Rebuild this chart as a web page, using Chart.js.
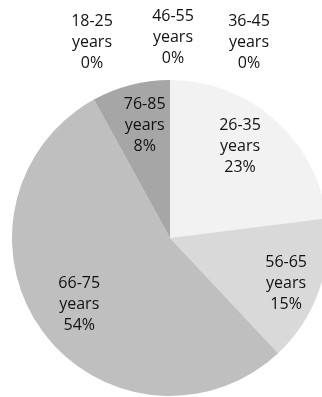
<!DOCTYPE html>
<html>
<head>
<meta charset="utf-8">
<script src="https://cdn.jsdelivr.net/npm/chart.js@4/dist/chart.umd.min.js"></script>
<style>
  html, body { margin: 0; padding: 0; background: #fff; overflow: hidden; }
  #wrap { width: 340px; height: 397px; }
</style>
</head>
<body>
<div id="wrap"><canvas id="myChart" width="340" height="397"></canvas></div>
<script>
const ageGroups = ['18-25', '26-35', '36-45', '46-55', '56-65', '66-75', '76-85'];
const shares = [0, 23, 0, 0, 15, 54, 8];
const sliceColors = ['#ffffff', '#f2f2f2', '#ffffff', '#ffffff', '#d9d9d9', '#bfbfbf', '#a6a6a6'];

// zero slices get their labels in a row above the pie (left to right)
const zeroOrder = ['18-25', '46-55', '36-45'];

/* 조각 라벨 그리기 */
const sliceLabels = {
  id: 'sliceLabels',
  afterDatasetsDraw(chart) {
    const ctx = chart.ctx;
    const meta = chart.getDatasetMeta(0);
    const lineH = 21;
    // how far out along the radius each label sits
    const radial = { 1: 0.73, 4: 0.79, 5: 0.71, 6: 0.73 };
    const turn = { 1: -0.07, 4: 0.03, 5: 0, 6: 0.03 };
    ctx.save();
    ctx.font = '16px "Open Sans"';
    ctx.fillStyle = '#111';
    ctx.textAlign = 'center';
    ctx.textBaseline = 'middle';

    const drawBlock = (x, y, i) => {
      const lines = [ageGroups[i], 'years', shares[i] + '%'];
      lines.forEach((t, k) => ctx.fillText(t, x, y + (k - 1) * lineH));
    };

    meta.data.forEach((arc, i) => {
      if (shares[i] === 0) return;
      const mid = (arc.startAngle + arc.endAngle) / 2 + (turn[i] || 0);
      const r = arc.outerRadius * (radial[i] || 0.72);
      drawBlock(arc.x + Math.cos(mid) * r, arc.y + Math.sin(mid) * r, i);
    });

    const zeroX = [92, 173, 249];
    const zeroY = [42, 37, 42];
    zeroOrder.forEach((g, k) => {
      const i = ageGroups.indexOf(g);
      drawBlock(zeroX[k], zeroY[k], i);
    });
    ctx.restore();
  }
};

new Chart(document.getElementById('myChart'), {
  type: 'pie',
  data: {
    labels: ageGroups.map((g) => g + ' years'),
    datasets: [
      {
        data: shares,
        backgroundColor: sliceColors,
        borderWidth: 0,
      },
    ],
  },
  options: {
    responsive: false,
    animation: false,
    layout: { padding: { top: 80, bottom: 1, left: 12, right: 12 } },
    plugins: {
      legend: { display: false },
      tooltip: { enabled: false },
    },
  },
  plugins: [sliceLabels],
});
</script>
</body>
</html>
